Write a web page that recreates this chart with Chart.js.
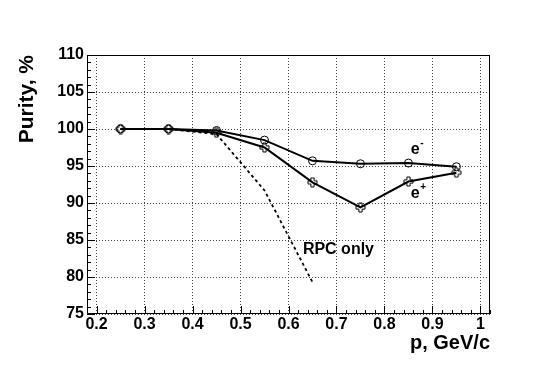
<!DOCTYPE html>
<html>
<head>
<meta charset="utf-8">
<script src="https://cdn.jsdelivr.net/npm/chart.js@4.4.1/dist/chart.umd.min.js"></script>
<style>
  html, body { margin: 0; padding: 0; background: #fff; }
</style>
</head>
<body>
<canvas id="purityChart" width="545" height="369"></canvas>
<script>
// momentum bins, GeV/c
const momentum = [0.25, 0.35, 0.45, 0.55, 0.65, 0.75, 0.85, 0.95];
const purityElectron = [100, 100, 99.8, 98.5, 95.7, 95.3, 95.4, 94.9];
const purityPositron = [100, 100, 99.5, 97.5, 92.8, 89.4, 92.9, 94.1];

const rpcMomentum = [0.25, 0.35, 0.45, 0.55, 0.65];
const purityRpc = [100, 100, 99.3, 91.7, 79.3];

const xTicks = [0.2, 0.3, 0.4, 0.5, 0.6, 0.7, 0.8, 0.9, 1.0];
const xTickLabels = ["0.2", "0.3", "0.4", "0.5", "0.6", "0.7", "0.8", "0.9", "1"];
const yTicks = [75, 80, 85, 90, 95, 100, 105, 110];
const yTickLabels = ["75", "80", "85", "90", "95", "100", "105", "110"];

const FONT = "'Liberation Sans', Arial, Helvetica, sans-serif";

// open cross marker (hollow plus)
function makeOpenCross() {
  const c = document.createElement("canvas");
  c.width = 11;
  c.height = 11;
  const g = c.getContext("2d");
  const m = 5.5, a = 4.5, w = 1.6;
  g.beginPath();
  g.moveTo(m - w, m - a);
  g.lineTo(m + w, m - a);
  g.lineTo(m + w, m - w);
  g.lineTo(m + a, m - w);
  g.lineTo(m + a, m + w);
  g.lineTo(m + w, m + w);
  g.lineTo(m + w, m + a);
  g.lineTo(m - w, m + a);
  g.lineTo(m - w, m + w);
  g.lineTo(m - a, m + w);
  g.lineTo(m - a, m - w);
  g.lineTo(m - w, m - w);
  g.closePath();
  g.lineWidth = 1;
  g.strokeStyle = "#000";
  g.stroke();
  return c;
}

const toPoints = (xs, ys) => xs.map((x, i) => ({ x, y: ys[i] }));

// frame, inside ticks and text labels
const decorations = {
  id: "decorations",
  afterDraw(chart) {
    const { ctx, chartArea: a, scales: { x, y } } = chart;
    ctx.save();
    ctx.strokeStyle = "#000";
    ctx.lineWidth = 1;
    ctx.strokeRect(Math.round(a.left) + 0.5, Math.round(a.top) + 0.5,
      Math.round(a.right - a.left) - 1, Math.round(a.bottom - a.top) - 1);

    // minor / major ticks, drawn inside the frame
    ctx.beginPath();
    for (let v = 75; v <= 110; v += 1) {
      const py = Math.round(y.getPixelForValue(v)) + 0.5;
      const len = v % 5 === 0 ? 8 : 4;
      ctx.moveTo(a.left, py);
      ctx.lineTo(a.left + len, py);
    }
    for (let i = 0; i <= 42; i++) {
      const v = 0.18 + i * 0.02;
      if (v > x.max + 1e-9) break;
      const major = Math.abs(v * 10 - Math.round(v * 10)) < 1e-6;
      const px = Math.round(x.getPixelForValue(v)) + 0.5;
      ctx.moveTo(px, a.bottom);
      ctx.lineTo(px, a.bottom - (major ? 8 : 4));
    }
    ctx.stroke();

    ctx.fillStyle = "#000";
    ctx.textBaseline = "alphabetic";
    ctx.textAlign = "left";
    const label = (base, sup, vx, vy) => {
      const px = x.getPixelForValue(vx);
      const py = y.getPixelForValue(vy);
      ctx.font = "bold 16px " + FONT;
      ctx.fillText(base, px, py);
      if (sup) {
        const w = ctx.measureText(base).width;
        ctx.font = "bold 10px " + FONT;
        ctx.fillText(sup, px + w + 0.5, py - 8);
      }
    };
    label("e", "-", 0.855, 96.6);
    label("e", "+", 0.855, 90.7);
    label("RPC only", null, 0.63, 83.1);
    ctx.restore();
  }
};

const ctx = document.getElementById("purityChart").getContext("2d");

new Chart(ctx, {
  type: "line",
  data: {
    datasets: [
      {
        label: "e-",
        data: toPoints(momentum, purityElectron),
        borderColor: "#000",
        borderWidth: 2,
        pointStyle: "circle",
        pointRadius: 4,
        pointBorderWidth: 1,
        pointBorderColor: "#000",
        pointBackgroundColor: "rgba(0,0,0,0)",
        tension: 0
      },
      {
        label: "e+",
        data: toPoints(momentum, purityPositron),
        borderColor: "#000",
        borderWidth: 2,
        pointStyle: makeOpenCross(),
        tension: 0
      },
      {
        label: "RPC only",
        data: toPoints(rpcMomentum, purityRpc),
        borderColor: "#000",
        borderWidth: 1.8,
        borderDash: [3, 3],
        pointRadius: 0,
        tension: 0
      }
    ]
  },
  options: {
    responsive: false,
    animation: false,
    layout: { padding: { left: 0, top: 55, right: 55, bottom: 0 } },
    plugins: {
      legend: { display: false },
      tooltip: { enabled: false }
    },
    scales: {
      x: {
        type: "linear",
        min: 0.18,
        max: 1.02,
        afterBuildTicks: s => { s.ticks = xTicks.map(v => ({ value: v })); },
        afterFit: s => { s.height = 55; },
        grid: { color: "#444", lineWidth: 1, drawTicks: false },
        border: { display: false, dash: [1, 2] },
        ticks: {
          color: "#000",
          padding: 1,
          maxRotation: 0,
          autoSkip: false,
          font: { family: FONT, size: 16, weight: "bold" },
          callback: (v, i) => xTickLabels[i]
        },
        title: {
          display: true,
          text: "p, GeV/c",
          align: "end",
          color: "#000",
          padding: { top: 0, bottom: 14 },
          font: { family: FONT, size: 20, weight: "bold" }
        }
      },
      y: {
        min: 75,
        max: 110,
        afterBuildTicks: s => { s.ticks = yTicks.map(v => ({ value: v })); },
        afterFit: s => { s.width = 87; },
        grid: { color: "#444", lineWidth: 1, drawTicks: false },
        border: { display: false, dash: [1, 2] },
        ticks: {
          color: "#000",
          padding: 3,
          font: { family: FONT, size: 16, weight: "bold" },
          callback: (v, i) => yTickLabels[i]
        },
        title: {
          display: true,
          text: "Purity, %",
          align: "end",
          color: "#000",
          padding: { top: 15, bottom: 0 },
          font: { family: FONT, size: 21, weight: "bold" }
        }
      }
    }
  },
  plugins: [decorations]
});
</script>
</body>
</html>
